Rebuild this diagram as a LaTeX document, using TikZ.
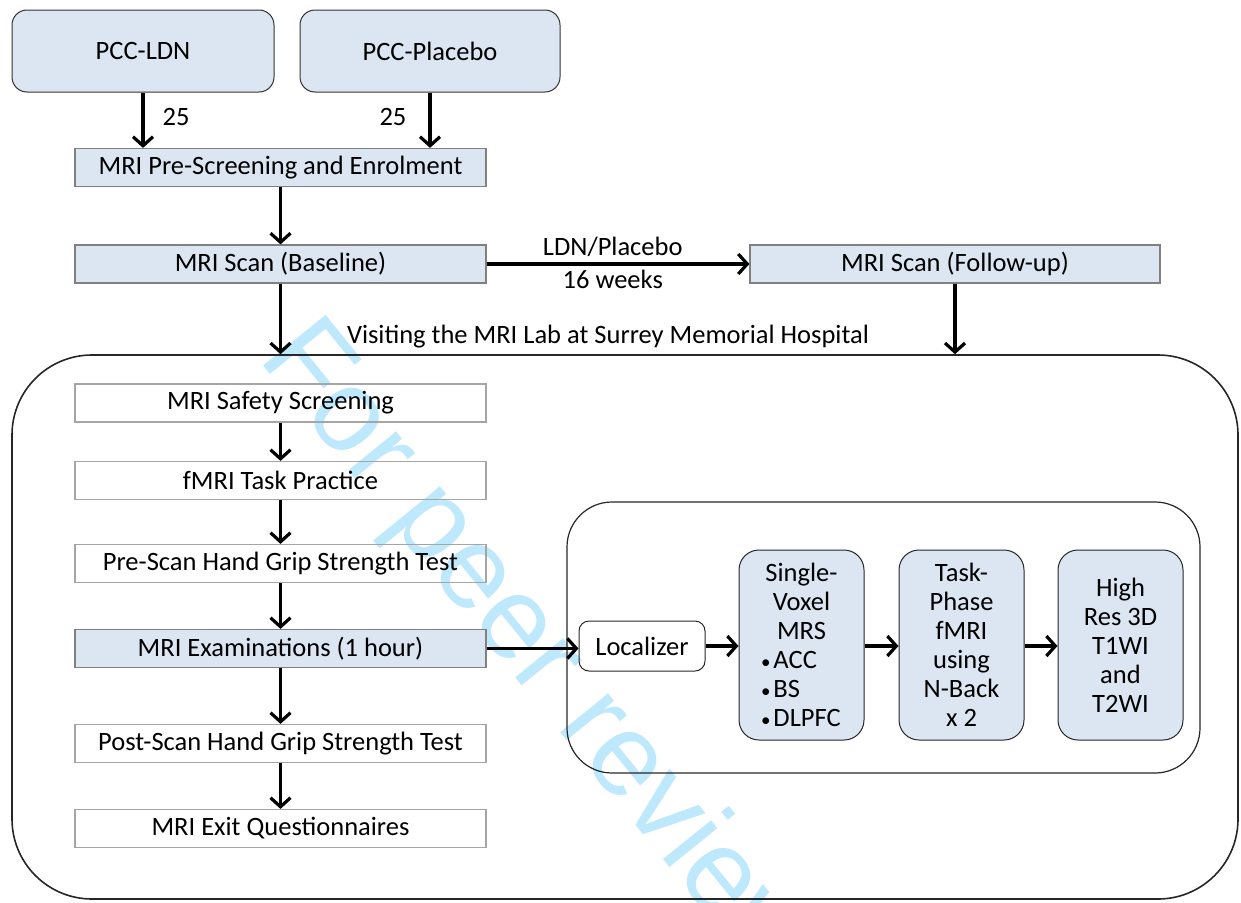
\documentclass[tikz,border=0pt]{standalone}
\usepackage{fontspec}
\setmainfont{Carlito}
\newfontfamily\wmfont{Liberation Sans}
\usetikzlibrary{arrows.meta}
\definecolor{boxblue}{RGB}{220,230,242}
\definecolor{boxgray}{RGB}{165,165,165}
\definecolor{wmblue}{RGB}{190,232,252}
\newcommand{\smbul}{{\fontsize{19}{19}\selectfont\textbullet}}
\tikzset{
  mainfont/.style={font=\fontsize{26.5}{29}\selectfont},
  txt/.style={mainfont, inner sep=0pt},
  topbox/.style={draw=black!80, line width=1pt, fill=boxblue, rounded corners=15pt, inner sep=0pt, mainfont},
  bluerect/.style={draw=black!50, line width=1.2pt, fill=boxblue, inner sep=0pt, minimum width=411pt, minimum height=38pt, mainfont},
  steprect/.style={draw=boxgray, line width=1.2pt, inner sep=0pt, minimum width=411pt, minimum height=38pt, mainfont},
  tallbox/.style={draw=black!85, line width=1pt, fill=boxblue, rounded corners=20pt, inner sep=0pt, minimum width=125pt, minimum height=190pt, align=center, mainfont},
  arr/.style={line width=3.2pt, -{Straight Barb[length=9pt,width=20pt]}},
}
\begin{document}
\begin{tikzpicture}[x=1pt,y=-1pt]
\useasboundingbox (0,0) rectangle (1241,902);
% watermark
\node[text=wmblue, font=\wmfont\fontsize{117}{117}\selectfont, rotate=-51, anchor=base west, inner sep=0pt] (wm) at (257,358) {For peer review};
% top boxes
\node[topbox, minimum width=262pt, minimum height=82pt] (ldn) at (143,51) {PCC-LDN};
\node[topbox, minimum width=260pt, minimum height=82pt] (plc) at (430,51) {PCC-Placebo};
\node[bluerect] (pre) at (280.5,167.5) {MRI Pre-Screening and Enrolment};
\node[bluerect] (base) at (280.5,264) {MRI Scan (Baseline)};
\node[bluerect, minimum width=410pt] (fol) at (955,264) {MRI Scan (Follow-up)};
% big container
\node[draw=black!85, line width=1.6pt, rounded corners=80pt, minimum width=1226pt, minimum height=544pt, inner sep=0pt] (big) at (625,627) {};
\node[txt] (visit) at (608,337) {Visiting the MRI Lab at Surrey Memorial Hospital};
% left steps
\node[steprect] (s1) at (280.5,403) {MRI Safety Screening};
\node[steprect] (s2) at (280.5,480.5) {fMRI Task Practice};
\node[steprect] (s3) at (280.5,563.5) {Pre-Scan Hand Grip Strength Test};
\node[bluerect] (s4) at (280.5,648.5) {MRI Examinations (1 hour)};
\node[steprect] (s5) at (280.5,743.5) {Post-Scan Hand Grip Strength Test};
\node[steprect] (s6) at (280.5,828.5) {MRI Exit Questionnaires};
% inner container
\node[draw=black!85, line width=1.2pt, rounded corners=45pt, minimum width=633pt, minimum height=271pt, inner sep=0pt] (inner) at (883.5,637.5) {};
\node[draw=black!85, line width=1pt, rounded corners=10pt, minimum width=126pt, minimum height=50pt, inner sep=0pt, mainfont] (loc) at (642,646) {Localizer};
\node[tallbox] (mrs) at (801.5,645) {Single-\\Voxel\\MRS\\\makebox[95pt][l]{\hspace{7pt}\smbul\hspace{3pt}ACC}\\\makebox[95pt][l]{\hspace{7pt}\smbul\hspace{3pt}BS}\\\makebox[95pt][l]{\hspace{7pt}\smbul\hspace{3pt}DLPFC}};
\node[tallbox] (task) at (961.5,645) {Task-\\Phase\\fMRI\\using\\N-Back\\x 2};
\node[tallbox] (high) at (1120.5,645) {High\\Res 3D\\T1WI\\and\\T2WI};
% connectors
\draw[arr] (ldn.south) -- (ldn.south |- pre.north) node[txt, pos=0.45, right=18pt] (n1) {25};
\draw[arr] (plc.south) -- (plc.south |- pre.north) node[txt, pos=0.45, left=22pt] (n2) {25};
\draw[arr] (pre.south) -- (base.north);
\draw[arr] (base.east) -- (fol.west) node[txt, pos=0.48, yshift=17pt] (lp) {LDN/Placebo} node[txt, pos=0.48, yshift=-15pt] (wk) {16 weeks};
\draw[arr] (base.south) -- (base.south |- big.north);
\draw[arr] (fol.south) -- (fol.south |- big.north);
\draw[arr] (s1.south) -- (s2.north);
\draw[arr] (s2.south) -- (s3.north);
\draw[arr] (s3.south) -- (s4.north);
\draw[arr] (s4.south) -- (s5.north);
\draw[arr] (s5.south) -- (s6.north);
\draw[arr] (s4.east) -- (s4.east -| loc.west);
\draw[arr] (loc.east) -- (loc.east -| mrs.west);
\draw[arr] (mrs.east |- loc.east) -- (task.west |- loc.east);
\draw[arr] (task.east |- loc.east) -- (high.west |- loc.east);
\end{tikzpicture}
\end{document}
